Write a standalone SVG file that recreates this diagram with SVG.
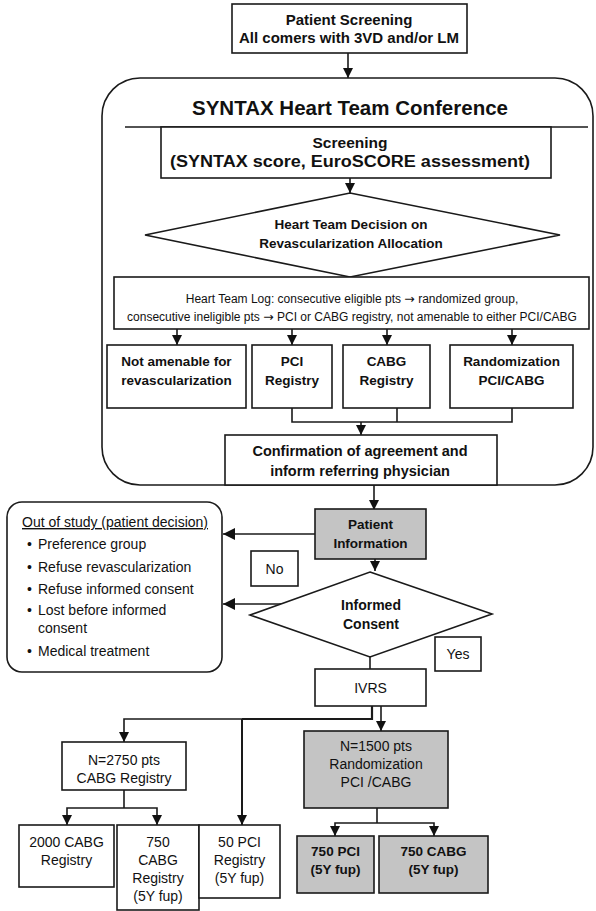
<svg xmlns="http://www.w3.org/2000/svg" width="596" height="911" viewBox="0 0 596 911">
  <style>
    .box { fill: #ffffff; stroke: #1a1a1a; stroke-width: 1.6; }
    .grey { fill: #c4c4c4; stroke: #1a1a1a; stroke-width: 1.6; }
    .ln { fill: none; stroke: #1a1a1a; stroke-width: 1.6; }
    .arr { fill: none; stroke: #1a1a1a; stroke-width: 1.6; marker-end: url(#ah); }
    text { font-family: "Liberation Sans", Arial, Helvetica, sans-serif; fill: #111; }
    .b { font-weight: bold; text-anchor: middle; }
    .r { text-anchor: middle; }
    .sym { font-family: "DejaVu Sans", sans-serif; }
  </style>
  <defs>
    <marker id="ah" viewBox="0 0 10 10" refX="10" refY="5" markerWidth="10" markerHeight="10" markerUnits="userSpaceOnUse" orient="auto">
      <path d="M0,0 L10,5 L0,10 z" fill="#111"/>
    </marker>
    <marker id="ahL" viewBox="0 0 12 12" refX="12" refY="6" markerWidth="13" markerHeight="12" markerUnits="userSpaceOnUse" orient="auto">
      <path d="M0,0 L12,6 L0,12 z" fill="#111"/>
    </marker>
  </defs>
  <rect width="596" height="911" fill="#ffffff"/>

  <!-- connectors -->
  <g id="connectors">
    <line class="arr" x1="348" y1="53" x2="348" y2="78"/>
    <line class="arr" x1="350" y1="178" x2="350" y2="193"/>
    <line class="arr" x1="177" y1="329" x2="177" y2="345"/>
    <line class="arr" x1="292" y1="329" x2="292" y2="345"/>
    <line class="arr" x1="387" y1="329" x2="387" y2="345"/>
    <line class="arr" x1="512" y1="329" x2="512" y2="345"/>
    <polyline class="ln" points="292,408 292,422 512,422 512,408"/>
    <line class="ln" x1="397" y1="408" x2="397" y2="422"/>
    <line class="arr" x1="361" y1="422" x2="361" y2="435"/>
    <line class="arr" x1="374" y1="485" x2="374" y2="510"/>
    <line class="arr" x1="375" y1="559" x2="375" y2="571"/>
    <line class="ln" x1="315" y1="534" x2="280" y2="534"/>
    <line class="ln" style="marker-end:url(#ahL)" x1="280" y1="534" x2="223" y2="534"/>
    <line class="ln" style="marker-end:url(#ahL)" x1="281" y1="604" x2="223" y2="604"/>
    <line class="ln" x1="370" y1="657" x2="370" y2="669"/>
    <polyline class="ln" style="stroke-width:2.2" points="372,706 372,719 242,719"/>
    <polyline class="arr" points="242,719 124,719 124,742"/>
    <line class="arr" style="stroke-width:2" x1="242" y1="719" x2="242" y2="825"/>
    <line class="arr" x1="381" y1="706" x2="381" y2="731"/>
    <line class="ln" x1="124" y1="790" x2="124" y2="808"/>
    <polyline class="arr" points="124,808 67,808 67,825"/>
    <polyline class="arr" points="124,808 157,808 157,825"/>
    <line class="ln" x1="377" y1="808" x2="377" y2="823"/>
    <polyline class="arr" points="377,823 335,823 335,836"/>
    <polyline class="arr" points="377,823 434,823 434,836"/>
  </g>

  <g id="patient-screening">
    <rect class="box" x="232" y="4" width="235" height="49"/>
    <text class="b" x="349" y="25" font-size="15">Patient Screening</text>
    <text class="b" x="349" y="43" font-size="15">All comers with 3VD and/or LM</text>
  </g>

  <g id="heart-team-conference">
    <rect class="ln" x="102" y="78" width="491" height="407" rx="38" ry="38"/>
    <text class="b" x="350" y="115" font-size="20.5">SYNTAX Heart Team Conference</text>
    <line class="ln" x1="125" y1="127" x2="588" y2="127"/>
  </g>

  <g id="screening">
    <rect class="box" x="161" y="127" width="390" height="51"/>
    <text class="b" x="350" y="148" font-size="15.5">Screening</text>
    <text class="b" x="350" y="167" font-size="16" textLength="360" lengthAdjust="spacingAndGlyphs">(SYNTAX score, EuroSCORE assessment)</text>
  </g>

  <g id="decision">
    <polygon class="box" points="350,193 560,235 350,277 145,235"/>
    <text class="b" x="351" y="229" font-size="13.5">Heart Team Decision on</text>
    <text class="b" x="351" y="248" font-size="13.5">Revascularization Allocation</text>
  </g>

  <g id="heart-team-log">
    <rect class="box" x="114" y="277" width="475" height="52"/>
    <text class="r" x="352" y="303" font-size="12">Heart Team Log: consecutive eligible pts <tspan class="sym" font-size="12.5">→</tspan> randomized group,</text>
    <text class="r" x="352" y="321" font-size="12">consecutive ineligible pts <tspan class="sym" font-size="12.5">→</tspan> PCI or CABG registry, not amenable to either PCI/CABG</text>
  </g>

  <g id="not-amenable">
    <rect class="box" x="107" y="345" width="139" height="63"/>
    <text class="b" x="176.5" y="366" font-size="13.5">Not amenable for</text>
    <text class="b" x="176.5" y="385" font-size="13.5">revascularization</text>
  </g>

  <g id="pci-registry">
    <rect class="box" x="252" y="345" width="80" height="63"/>
    <text class="b" x="292" y="366" font-size="13.5">PCI</text>
    <text class="b" x="292" y="385" font-size="13.5">Registry</text>
  </g>

  <g id="cabg-registry">
    <rect class="box" x="343" y="345" width="87" height="63"/>
    <text class="b" x="386.5" y="366" font-size="13.5">CABG</text>
    <text class="b" x="386.5" y="385" font-size="13.5">Registry</text>
  </g>

  <g id="randomization">
    <rect class="box" x="450" y="345" width="123" height="63"/>
    <text class="b" x="511.5" y="366" font-size="13.5">Randomization</text>
    <text class="b" x="511.5" y="385" font-size="13.5">PCI/CABG</text>
  </g>

  <g id="confirmation">
    <rect class="box" x="225" y="435" width="272" height="50"/>
    <text class="b" x="360" y="456" font-size="14.5">Confirmation of agreement and</text>
    <text class="b" x="360" y="476" font-size="14.5">inform referring physician</text>
  </g>

  <g id="out-of-study">
    <rect class="box" x="7" y="502" width="215" height="170" rx="15" ry="15"/>
    <text x="22" y="527" font-size="14" text-decoration="underline">Out of study (patient decision)</text>
    <text x="27" y="549" font-size="14">•</text>
    <text x="38" y="549" font-size="14">Preference group</text>
    <text x="27" y="572" font-size="14">•</text>
    <text x="38" y="572" font-size="14">Refuse revascularization</text>
    <text x="27" y="594" font-size="14">•</text>
    <text x="38" y="594" font-size="14">Refuse informed consent</text>
    <text x="27" y="615" font-size="14">•</text>
    <text x="38" y="615" font-size="14">Lost before informed</text>
    <text x="38" y="633" font-size="14">consent</text>
    <text x="27" y="656" font-size="14">•</text>
    <text x="38" y="656" font-size="14">Medical treatment</text>
  </g>

  <g id="patient-information">
    <rect class="grey" x="315" y="509" width="111" height="50"/>
    <text class="b" x="370.5" y="529" font-size="13.5">Patient</text>
    <text class="b" x="370.5" y="548" font-size="13.5">Information</text>
  </g>

  <g id="label-no">
    <rect class="box" x="251" y="551" width="47" height="35"/>
    <text class="r" x="274.5" y="574" font-size="14">No</text>
  </g>

  <g id="informed-consent">
    <polygon class="box" points="370,572 492,614 370,657 250,615"/>
    <text class="b" x="371" y="610" font-size="14">Informed</text>
    <text class="b" x="371" y="629" font-size="14">Consent</text>
  </g>

  <g id="label-yes">
    <rect class="box" x="435" y="637" width="46" height="34"/>
    <text class="r" x="458" y="659" font-size="14">Yes</text>
  </g>

  <g id="ivrs">
    <rect class="box" x="315" y="669" width="111" height="37"/>
    <text class="r" x="370.5" y="693" font-size="14">IVRS</text>
  </g>

  <g id="cabg-registry-2750">
    <rect class="box" x="62" y="742" width="124" height="48"/>
    <text class="r" x="124" y="765" font-size="14">N=2750 pts</text>
    <text class="r" x="124" y="783" font-size="14">CABG Registry</text>
  </g>

  <g id="cabg-2000">
    <rect class="box" x="19" y="825" width="95" height="62"/>
    <text class="r" x="66.5" y="847" font-size="14">2000 CABG</text>
    <text class="r" x="66.5" y="865" font-size="14">Registry</text>
  </g>

  <g id="cabg-750-registry">
    <rect class="box" x="117" y="825" width="82" height="85"/>
    <text class="r" x="158" y="847" font-size="14">750</text>
    <text class="r" x="158" y="865" font-size="14">CABG</text>
    <text class="r" x="158" y="883" font-size="14">Registry</text>
    <text class="r" x="158" y="901" font-size="14">(5Y fup)</text>
  </g>

  <g id="pci-50">
    <rect class="box" x="199" y="825" width="81" height="73"/>
    <text class="r" x="239.5" y="847" font-size="14">50 PCI</text>
    <text class="r" x="239.5" y="865" font-size="14">Registry</text>
    <text class="r" x="239.5" y="883" font-size="14">(5Y fup)</text>
  </g>

  <g id="randomized-1500">
    <rect class="grey" x="304" y="731" width="144" height="77"/>
    <text class="r" x="376" y="751" font-size="14">N=1500 pts</text>
    <text class="r" x="376" y="769" font-size="14">Randomization</text>
    <text class="r" x="376" y="787" font-size="14">PCI /CABG</text>
  </g>

  <g id="pci-750">
    <rect class="grey" x="297" y="836" width="77" height="57"/>
    <text class="b" x="335.5" y="856" font-size="13.5">750 PCI</text>
    <text class="b" x="335.5" y="874" font-size="13.5">(5Y fup)</text>
  </g>

  <g id="cabg-750">
    <rect class="grey" x="379" y="836" width="109" height="57"/>
    <text class="b" x="433.5" y="856" font-size="13.5">750 CABG</text>
    <text class="b" x="433.5" y="874" font-size="13.5">(5Y fup)</text>
  </g>
</svg>
